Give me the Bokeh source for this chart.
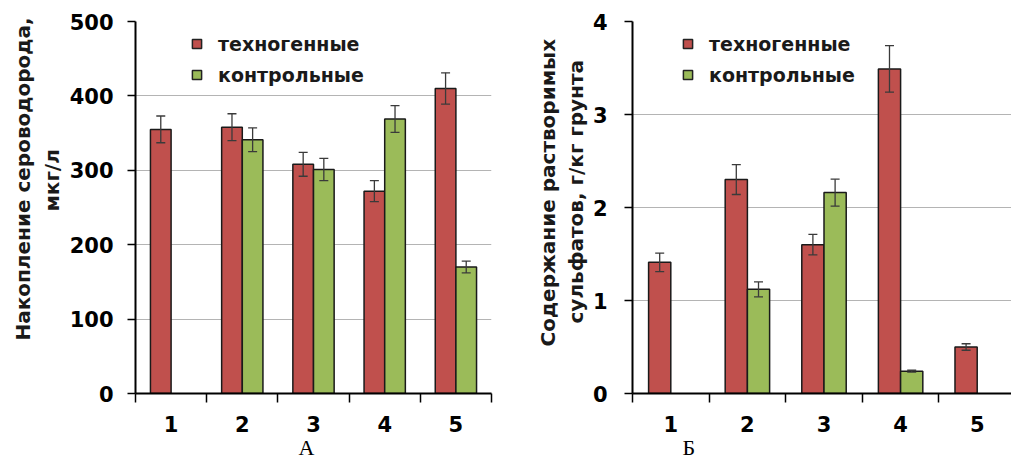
import math
from bokeh.plotting import figure
from bokeh.models import (ColumnDataSource, FixedTicker, Whisker, TeeHead, Legend,
                          LegendItem, Title, Range1d)
from bokeh.layouts import row
from bokeh.embed import file_html
from bokeh.resources import INLINE

# ---------------- data ----------------
categories = [1, 2, 3, 4, 5]
category_labels = ["1", "2", "3", "4", "5"]
series_names = ["техногенные", "контрольные"]

# Panel A: accumulation of hydrogen sulphide, мкг/л
a_tech = [355, 358, 308, 272, 410]
a_tech_err = [18, 18, 16, 14, 21]
a_ctrl = [None, 341, 301, 369, 170]
a_ctrl_err = [None, 16, 15, 18, 8]
a_yticks = [0, 100, 200, 300, 400, 500]
a_ylabel = ["Накопление сероводорода,", "мкг/л"]
a_letter = "А"

# Panel Б: soluble sulphates, г/кг грунта
b_tech = [1.41, 2.30, 1.60, 3.49, 0.50]
b_tech_err = [0.10, 0.16, 0.11, 0.25, 0.035]
b_ctrl = [None, 1.12, 2.16, 0.24, None]
b_ctrl_err = [None, 0.08, 0.145, 0.01, None]
b_yticks = [0, 1, 2, 3, 4]
b_ylabel = ["Содержание растворимых", "сульфатов, г/кг грунта"]
b_letter = "Б"

# ---------------- style ----------------
RED = "#C0504D"
GREEN = "#9BBB59"
FONT = "DejaVu Sans"
SERIF = "Liberation Serif"
BAR_W = 0.29
ERR_COLOR = "#3a3a3a"


def series_source(vals, errs, offset):
    xs, tops, up, lo = [], [], [], []
    for c, v, e in zip(categories, vals, errs):
        if v is None:
            continue
        xs.append(c + offset)
        tops.append(v)
        up.append(v + e)
        lo.append(v - e)
    return ColumnDataSource(dict(x=xs, top=tops, upper=up, lower=lo))


def make_panel(width, mb_left, mb_right, mb_top, mb_bottom, x_end, yticks,
               tech, tech_err, ctrl, ctrl_err, ylabel, ylabel_offsets, ylabel_standoffs,
               ytick_standoff, letter, letter_offset, legend_xy, legend_bg_alpha):
    p = figure(width=width, height=461, x_range=Range1d(0.5, x_end),
               y_range=Range1d(yticks[0], yticks[-1]), title=None,
               output_backend="svg", toolbar_location=None,
               min_border_left=mb_left, min_border_right=mb_right,
               min_border_top=mb_top, min_border_bottom=mb_bottom)
    p.outline_line_color = None
    p.background_fill_color = "white"
    p.border_fill_color = "white"
    p.xgrid.visible = False
    p.ygrid.grid_line_color = "#B4B4B4"
    p.ygrid.grid_line_width = 1

    # y axis
    p.yaxis.ticker = FixedTicker(ticks=yticks)
    p.yaxis.axis_line_width = 2
    p.yaxis.axis_line_color = "black"
    p.yaxis.major_tick_out = 8
    p.yaxis.major_tick_in = 0
    p.yaxis.major_tick_line_width = 1.5
    p.yaxis.minor_tick_out = 0
    p.yaxis.minor_tick_in = 0
    p.yaxis.major_label_standoff = ytick_standoff
    p.yaxis.major_label_text_font = FONT
    p.yaxis.major_label_text_font_style = "bold"
    p.yaxis.major_label_text_font_size = "21px"
    p.yaxis.major_label_text_color = "black"

    # x axis: labels at category centres, ticks at category boundaries
    boundaries = [c - 0.5 for c in categories] + [categories[-1] + 0.5]
    p.xaxis.ticker = FixedTicker(ticks=categories, minor_ticks=boundaries)
    p.xaxis.major_label_overrides = {c: l for c, l in zip(categories, category_labels)}
    p.xaxis.axis_line_width = 2
    p.xaxis.axis_line_color = "black"
    p.xaxis.major_tick_out = 0
    p.xaxis.major_tick_in = 0
    p.xaxis.minor_tick_out = 9
    p.xaxis.minor_tick_in = 0
    p.xaxis.minor_tick_line_color = "black"
    p.xaxis.minor_tick_line_width = 1.5
    p.xaxis.major_label_standoff = 13
    p.xaxis.major_label_text_font = FONT
    p.xaxis.major_label_text_font_style = "bold"
    p.xaxis.major_label_text_font_size = "21px"
    p.xaxis.major_label_text_color = "black"

    # bars + error bars
    for vals, errs, off, col in [(tech, tech_err, -BAR_W / 2, RED),
                                 (ctrl, ctrl_err, BAR_W / 2, GREEN)]:
        src = series_source(vals, errs, off)
        p.vbar(x="x", top="top", bottom=0, width=BAR_W, source=src,
               fill_color=col, line_color="#1a1a1a", line_width=1.5)
        w = Whisker(source=src, base="x", upper="upper", lower="lower",
                    dimension="height", line_color=ERR_COLOR, line_width=1.3,
                    upper_head=TeeHead(size=9, line_color=ERR_COLOR, line_width=1.3),
                    lower_head=TeeHead(size=9, line_color=ERR_COLOR, line_width=1.3))
        w.level = "annotation"
        p.add_layout(w)

    # legend with square swatches (proxy renderers without visible points)
    proxies = []
    for col in [RED, GREEN]:
        r = p.scatter(x=[float("nan")], y=[float("nan")], marker="square", fill_color=col,
                      line_color="#222222", line_width=1.5, size=9)
        proxies.append(r)
    legend = Legend(items=[LegendItem(label=n, renderers=[r]) for n, r in zip(series_names, proxies)],
                    location=legend_xy, orientation="vertical",
                    glyph_width=23, glyph_height=25, label_height=25,
                    label_standoff=10, spacing=6, padding=10, margin=0,
                    border_line_color=None, background_fill_color="white",
                    background_fill_alpha=legend_bg_alpha,
                    label_text_font=FONT, label_text_font_style="bold",
                    label_text_font_size="19px", label_text_color="#1a1a1a")
    p.add_layout(legend, "center")

    # rotated y-axis title (two lines, inner line first)
    for text, off, so in reversed(list(zip(ylabel, ylabel_offsets, ylabel_standoffs))):
        p.add_layout(Title(text=text, align="left", offset=off, standoff=so,
                           vertical_align="bottom",
                           text_font=FONT, text_font_style="bold", text_font_size="20px",
                           text_color="#1a1a1a"), "left")

    # panel letter
    p.add_layout(Title(text=letter, align="left", offset=letter_offset, standoff=0,
                       vertical_align="top", text_font=SERIF, text_font_style="normal",
                       text_font_size="22px", text_color="black"), "below")
    return p


pA = make_panel(505, 135, 14, 19, 63, 5.5, a_yticks,
                a_tech, a_tech_err, a_ctrl, a_ctrl_err,
                a_ylabel, [53, 182], [0, 6], 14, a_letter, 163,
                (50, 306), 1.0)
pB = make_panel(506, 127, 0, 21, 64, 0.5 + 379 / 76.6, b_yticks,
                b_tech, b_tech_err, b_ctrl, b_ctrl_err,
                b_ylabel, [47, 70], [0, 4], 17, b_letter, 50,
                (44, 306), 0.0)

layout = row(pA, pB)
open("out.html", "w").write(file_html(layout, INLINE))
